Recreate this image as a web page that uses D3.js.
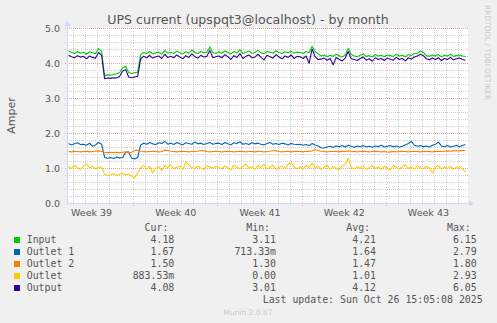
<!DOCTYPE html>
<html>
<head>
<meta charset="utf-8">
<script src="https://cdn.jsdelivr.net/npm/d3@7/dist/d3.min.js"></script>
<style>
  html, body { margin: 0; padding: 0; background: #f0f0f0; }
  svg { display: block; }
</style>
</head>
<body>
<svg id="chart" width="497" height="323"></svg>
<script>
// Samples every 6 hours, 2025-09-23 15:00 .. 2025-10-26 15:00 (amperes)
const sampleStart = Date.UTC(2025, 8, 23, 15);
const sampleStepHours = 6;

const inputAmps = [
  4.35, 4.30, 4.27, 4.33, 4.28, 4.31, 4.25, 4.32, 4.29, 4.27, 4.41, 4.33,
  3.64, 3.66, 3.65, 3.68, 3.69, 3.73, 3.86, 3.91, 3.73, 3.70, 3.72, 3.74,
  4.24, 4.30, 4.27, 4.33, 4.26, 4.29, 4.31, 4.25, 4.36, 4.28, 4.30, 4.27, 4.34, 4.29, 4.26, 4.32,
  4.28, 4.37, 4.30, 4.27, 4.33, 4.29, 4.31, 4.46, 4.30, 4.27,
  4.32, 4.28, 4.35, 4.30, 4.26, 4.33, 4.29, 4.38, 4.27, 4.31, 4.34, 4.28, 4.30, 4.36, 4.29, 4.26,
  4.33, 4.31, 4.28, 4.35, 4.30, 4.27, 4.32, 4.29, 4.34, 4.28, 4.31,
  4.30, 4.27, 4.33, 4.29, 4.48, 4.33, 4.26,
  4.20, 4.23, 4.18, 4.22, 4.19, 4.25, 4.21, 4.17, 4.23, 4.42, 4.24, 4.20, 4.18, 4.22, 4.26, 4.19,
  4.21, 4.17, 4.24, 4.20, 4.22, 4.18, 4.23, 4.21, 4.19, 4.25, 4.20, 4.22, 4.18, 4.24, 4.21, 4.27,
  4.28, 4.34, 4.30, 4.21, 4.19, 4.23, 4.20, 4.24, 4.18, 4.22, 4.20, 4.25, 4.19, 4.21, 4.23, 4.20, 4.18
];

const outlet1Amps = [
  1.70, 1.66, 1.69, 1.72, 1.67, 1.68, 1.65, 1.71, 1.62, 1.66, 1.73, 1.68,
  1.31, 1.28, 1.30, 1.27, 1.31, 1.29, 1.30, 1.45, 1.46, 1.28, 1.26, 1.30,
  1.66, 1.71, 1.68, 1.73, 1.69, 1.67, 1.72, 1.70, 1.76, 1.68, 1.71, 1.67, 1.73, 1.69, 1.66, 1.72,
  1.70, 1.68, 1.74, 1.69, 1.71, 1.67, 1.70, 1.73, 1.68, 1.70,
  1.71, 1.67, 1.73, 1.69, 1.66, 1.72, 1.70, 1.75, 1.68, 1.70, 1.67, 1.72, 1.69, 1.71, 1.68, 1.66,
  1.70, 1.73, 1.68, 1.70, 1.67, 1.71, 1.69, 1.66, 1.70, 1.68, 1.67,
  1.68, 1.65, 1.67, 1.64, 1.70, 1.66, 1.63, 1.58, 1.57, 1.60, 1.62, 1.59, 1.63, 1.61, 1.64, 1.60,
  1.65, 1.62, 1.59, 1.63, 1.61, 1.64, 1.60, 1.62, 1.59, 1.63, 1.61, 1.65, 1.60, 1.62, 1.64, 1.61,
  1.63, 1.60, 1.62, 1.66, 1.70, 1.76, 1.65, 1.62, 1.64, 1.61, 1.63, 1.60, 1.65, 1.68, 1.74, 1.63,
  1.61, 1.64, 1.60, 1.62, 1.65, 1.61, 1.64, 1.67
];

const outlet2Amps = [
  1.47, 1.46, 1.48, 1.47, 1.46, 1.47, 1.48, 1.46, 1.47, 1.48, 1.49, 1.47,
  1.45, 1.44, 1.45, 1.44, 1.45, 1.44, 1.45, 1.46, 1.44, 1.45, 1.50, 1.51,
  1.48, 1.47, 1.46, 1.47, 1.48, 1.47, 1.46, 1.47, 1.51, 1.50, 1.48, 1.47, 1.46, 1.47, 1.48, 1.47,
  1.46, 1.47, 1.47, 1.48, 1.50, 1.49, 1.47, 1.46, 1.47, 1.48,
  1.47, 1.46, 1.47, 1.48, 1.47, 1.46, 1.47, 1.48, 1.47, 1.46, 1.47, 1.47, 1.46, 1.48, 1.47, 1.46,
  1.47, 1.48, 1.50, 1.49, 1.47, 1.46, 1.47, 1.48, 1.46, 1.47, 1.48,
  1.47, 1.46, 1.48, 1.47, 1.49, 1.52, 1.50, 1.48, 1.47, 1.46, 1.47, 1.48, 1.47, 1.46, 1.48, 1.47,
  1.49, 1.48, 1.47, 1.46, 1.47, 1.48, 1.47, 1.46, 1.47, 1.48, 1.47, 1.46, 1.47, 1.45, 1.46, 1.47,
  1.46, 1.47, 1.48, 1.47, 1.46, 1.47, 1.48, 1.47, 1.46, 1.47, 1.48, 1.47, 1.46, 1.47, 1.48, 1.47,
  1.48, 1.49, 1.48, 1.49, 1.50, 1.49, 1.50, 1.50
];

const outletAmps = [
  1.04, 0.98, 1.08, 1.01, 0.95, 1.06, 1.12, 1.00, 1.05, 0.97, 1.03, 1.02,
  0.82, 0.78, 0.80, 0.84, 0.79, 0.81, 0.85, 0.80, 0.83, 0.77, 0.72, 0.86,
  1.00, 1.08, 0.96, 1.05, 0.86, 0.99, 1.04, 0.93, 1.07, 1.01, 1.10, 0.97, 1.03, 1.06, 0.95, 1.17,
  1.09, 1.02, 0.98, 1.05, 1.00, 0.96, 1.08, 1.03, 0.99, 1.04,
  1.02, 0.97, 1.06, 1.01, 0.95, 1.09, 1.03, 0.98, 1.05, 1.12, 0.99, 1.04, 0.96, 1.07, 1.01, 1.10,
  0.97, 1.03, 1.08, 0.95, 1.02, 1.06, 0.99, 1.11, 1.16, 1.04, 0.97,
  1.03, 0.98, 1.07, 1.01, 1.14, 0.99, 1.05, 0.96, 1.02, 1.08, 0.97, 1.04, 1.00, 0.95, 1.06, 1.10,
  1.28, 1.02, 0.97, 1.04, 0.99, 1.06, 0.95, 1.01, 1.07, 0.98, 1.03, 0.96, 1.05, 1.00, 0.94, 1.08,
  1.02, 0.97, 1.04, 1.09, 0.99, 1.03, 0.96, 1.06, 1.01, 0.98, 1.05, 1.00, 0.85, 1.02, 1.07, 0.97,
  1.03, 0.99, 1.05, 0.96, 1.02, 1.04, 0.98, 0.88353
];

const outputAmps = [
  4.22, 4.18, 4.15, 4.21, 4.17, 4.19, 4.12, 4.20, 4.16, 4.14, 4.30, 4.22,
  3.55, 3.57, 3.56, 3.58, 3.57, 3.62, 3.77, 3.81, 3.60, 3.58, 3.60, 3.62,
  4.12, 4.19, 4.15, 4.22, 4.14, 4.18, 4.20, 4.13, 4.25, 4.16, 4.19, 4.15, 4.23, 4.17, 4.12, 4.21,
  4.16, 4.26, 4.18, 4.14, 4.22, 4.17, 4.19, 4.36, 4.15, 4.18,
  4.20, 4.15, 4.24, 4.18, 4.10, 4.21, 4.16, 4.27, 4.13, 4.19, 4.23, 4.15, 4.17, 4.25, 4.16, 4.09,
  4.22, 4.18, 4.14, 4.24, 4.17, 4.12, 4.20, 4.16, 4.23, 4.13, 4.19,
  4.18, 4.13, 4.20, 3.99, 4.40, 4.18, 4.10,
  4.11, 4.14, 4.08, 4.13, 3.95, 4.16, 4.11, 4.06, 4.14, 4.33, 4.12, 4.10, 4.07, 4.13, 4.17, 4.08,
  4.12, 4.05, 4.15, 4.10, 4.13, 4.07, 4.14, 4.11, 4.08, 4.16, 4.10, 4.13, 4.06, 4.15, 4.11, 4.17,
  4.20, 4.25, 4.21, 4.12, 4.09, 4.14, 4.10, 4.15, 4.07, 4.13, 4.10, 4.16, 4.09, 4.12, 4.14, 4.10, 4.08
];

const seriesNames  = ["Input", "Outlet 1", "Outlet 2", "Outlet", "Output"];
const seriesColors = ["#00cc00", "#0066b3", "#ff8000", "#ffcc00", "#330099"];
const seriesValues = [inputAmps, outlet1Amps, outlet2Amps, outletAmps, outputAmps];

// Summary columns from the full-resolution archive
const minLabels = ["3.11", "713.33m", "1.30", "0.00", "3.01"];
const avgLabels = ["4.21", "1.64", "1.47", "1.01", "4.12"];
const maxLabels = ["6.15", "2.79", "1.80", "2.93", "6.05"];

const yTickValues = [0, 1, 2, 3, 4, 5];
const weekLabels = ["Week 39", "Week 40", "Week 41", "Week 42", "Week 43"];
const weekMidpoints = [
  Date.UTC(2025, 8, 25, 12), Date.UTC(2025, 9, 2, 12), Date.UTC(2025, 9, 9, 12),
  Date.UTC(2025, 9, 16, 12), Date.UTC(2025, 9, 23, 12)
];

const titleText = "UPS current (upspqt3@localhost) - by month";
const yAxisTitle = "Amper";
const lastUpdateText = "Last update: Sun Oct 26 15:05:08 2025";
const watermarkText = "RRDTOOL / TOBI OETIKER";
const versionText = "Munin 2.0.67";

// ---------------------------------------------------------------------------
const svg = d3.select("#chart");
const plot = { left: 67, right: 468, top: 28, bottom: 203 };
const sansFont = "'DejaVu Sans', sans-serif";
const monoFont = "'DejaVu Sans Mono', monospace";
const textColor = "#555";

const x = d3.scaleUtc()
  .domain([Date.UTC(2025, 8, 23, 12), Date.UTC(2025, 9, 26, 20)])
  .range([plot.left, plot.right]);
const y = d3.scaleLinear().domain([0, 5]).range([plot.bottom, plot.top]);

svg.append("rect").attr("width", 497).attr("height", 323).attr("fill", "#f0f0f0");
svg.append("rect")
  .attr("x", plot.left).attr("y", plot.top)
  .attr("width", plot.right - plot.left).attr("height", plot.bottom - plot.top)
  .attr("fill", "#ffffff");

const crisp = v => Math.round(v) + 0.5;

// Minor grid: every 0.2 A and every day
const grid = svg.append("g").attr("shape-rendering", "crispEdges");
const minorColor = "#cfcfcf";
const majorColor = "#f2b4b4";
const minorY = d3.range(1, 25).map(k => k * 0.2).filter(v => Math.abs(v - Math.round(v)) > 1e-6);
grid.selectAll(".hminor").data(minorY).join("line")
  .attr("x1", plot.left - 2).attr("x2", plot.right)
  .attr("y1", d => crisp(y(d))).attr("y2", d => crisp(y(d)))
  .attr("stroke", minorColor).attr("stroke-dasharray", "1,1");

const days = d3.utcDay.range(x.domain()[0], x.domain()[1]).filter(d => d.getUTCDay() !== 1);
grid.selectAll(".vminor").data(days).join("line")
  .attr("x1", d => crisp(x(d))).attr("x2", d => crisp(x(d)))
  .attr("y1", plot.top).attr("y2", plot.bottom + 2)
  .attr("stroke", minorColor).attr("stroke-dasharray", "1,1");

// Major grid: whole amperes and week starts
const majorY = yTickValues.filter(v => v > 0);
grid.selectAll(".hmajor").data(majorY).join("line")
  .attr("x1", plot.left - 2).attr("x2", plot.right)
  .attr("y1", d => crisp(y(d))).attr("y2", d => crisp(y(d)))
  .attr("stroke", "#eba0a0").attr("stroke-dasharray", "1,1");

const mondays = d3.utcMonday.range(x.domain()[0], x.domain()[1]);
grid.selectAll(".vmajor").data(mondays).join("line")
  .attr("x1", d => crisp(x(d))).attr("x2", d => crisp(x(d)))
  .attr("y1", plot.top).attr("y2", plot.bottom + 3)
  .attr("stroke", majorColor).attr("stroke-dasharray", "1,2");

// Series lines
svg.append("clipPath").attr("id", "plotClip")
  .append("rect").attr("x", plot.left).attr("y", plot.top)
  .attr("width", plot.right - plot.left).attr("height", plot.bottom - plot.top);

const timeAt = i => new Date(sampleStart + i * sampleStepHours * 3600e3);
const line = d3.line().x((d, i) => x(timeAt(i))).y(d => y(d));

svg.append("g").attr("clip-path", "url(#plotClip)")
  .selectAll("path").data(seriesValues).join("path")
  .attr("d", d => line(d))
  .attr("fill", "none")
  .attr("stroke", (d, i) => seriesColors[i])
  .attr("stroke-width", 1.1)
  .attr("stroke-linejoin", "round");

// Axes lines and arrows
const axisColor = "#cfd6f8";
svg.append("line").attr("x1", plot.left + 0.5).attr("x2", plot.left + 0.5)
  .attr("y1", plot.top - 4).attr("y2", plot.bottom + 0.5)
  .attr("stroke", axisColor);
svg.append("line").attr("x1", plot.left).attr("x2", plot.right + 3)
  .attr("y1", plot.bottom + 0.5).attr("y2", plot.bottom + 0.5)
  .attr("stroke", axisColor);
svg.append("path")
  .attr("d", `M${plot.left - 2.5},${plot.top - 2} L${plot.left + 0.5},${plot.top - 7} L${plot.left + 3.5},${plot.top - 2} Z`)
  .attr("fill", axisColor);
svg.append("path")
  .attr("d", `M${plot.right + 1},${plot.bottom - 2.5} L${plot.right + 6},${plot.bottom + 0.5} L${plot.right + 1},${plot.bottom + 3.5} Z`)
  .attr("fill", axisColor);

// Tick labels via d3 axes
const yAxis = d3.axisLeft(y).tickValues(yTickValues).tickFormat(d3.format(".1f"))
  .tickSize(0).tickPadding(7);
const gy = svg.append("g").attr("transform", `translate(${plot.left},0)`).call(yAxis);
gy.select(".domain").remove();
gy.selectAll("text").attr("font-family", sansFont).attr("font-size", "9.5px").attr("fill", textColor);

const xAxis = d3.axisBottom(x).tickValues(weekMidpoints.map(t => new Date(t)))
  .tickFormat((d, i) => weekLabels[i]).tickSize(0).tickPadding(6);
const gx = svg.append("g").attr("transform", `translate(0,${plot.bottom})`).call(xAxis);
gx.select(".domain").remove();
gx.selectAll("text").attr("font-family", sansFont).attr("font-size", "9.5px").attr("fill", textColor);

// Title and axis title
svg.append("text").attr("x", 248).attr("y", 23.7).attr("text-anchor", "middle")
  .attr("font-family", sansFont).attr("font-size", "12.6px").attr("fill", textColor)
  .text(titleText);
svg.append("text").attr("transform", "translate(15,115.5) rotate(-90)").attr("text-anchor", "middle")
  .attr("font-family", sansFont).attr("font-size", "11px").attr("fill", textColor)
  .text(yAxisTitle);

// Watermark and version
svg.append("text").attr("transform", "translate(485,5) rotate(90)")
  .attr("font-family", sansFont).attr("font-size", "7.4px").attr("fill", "#c8c8c8")
  .text(watermarkText);
svg.append("text").attr("x", 248).attr("y", 315).attr("text-anchor", "middle")
  .attr("font-family", sansFont).attr("font-size", "7.5px").attr("fill", "#c8c8c8")
  .text(versionText);

// Legend
const fmtValue = v => (v !== 0 && Math.abs(v) < 1) ? (v * 1000).toFixed(2) + "m" : v.toFixed(2);
const curLabels = seriesValues.map(vals => fmtValue(vals[vals.length - 1]));
const legendFontSize = 9.9;
const charW = legendFontSize * 0.602;
const colRight = [174.3, 276, 376, 476.7];
const legend = svg.append("g").attr("font-family", monoFont)
  .attr("font-size", legendFontSize + "px").attr("fill", textColor);

["Cur:", "Min:", "Avg:", "Max:"].forEach((h, j) => {
  legend.append("text").attr("x", colRight[j] - charW).attr("y", 230.7)
    .attr("text-anchor", "end").text(h);
});

seriesNames.forEach((name, i) => {
  const base = 242.7 + i * 12;
  legend.append("rect").attr("x", 14).attr("y", base - 5.7).attr("width", 6).attr("height", 6)
    .attr("fill", seriesColors[i]);
  legend.append("text").attr("x", 26.7).attr("y", base).text(name);
  [curLabels[i], minLabels[i], avgLabels[i], maxLabels[i]].forEach((v, j) => {
    legend.append("text").attr("x", colRight[j]).attr("y", base)
      .attr("text-anchor", "end").text(v);
  });
});

legend.append("text").attr("x", 482.7).attr("y", 302.7).attr("text-anchor", "end").text(lastUpdateText);
</script>
</body>
</html>
